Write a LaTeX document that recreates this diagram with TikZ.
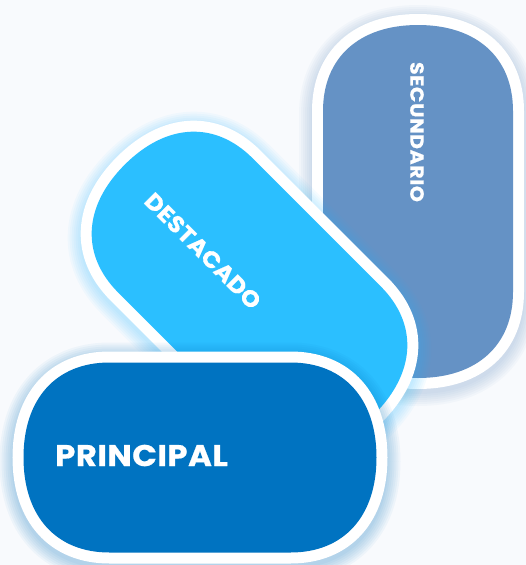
\documentclass[tikz,border=0pt]{standalone}
\usepackage{fontspec}
\newfontfamily\popfont{Poppins}
\definecolor{bgc}{HTML}{F8FAFD}
\definecolor{princ}{HTML}{0073C1}
\definecolor{dest}{HTML}{2BBFFF}
\definecolor{secu}{HTML}{6592C5}
\def\pL{176.5}
\def\pS{95}
\def\rA{86}
\def\rB{95}
\def\kk{0.62}
\tikzset{
  pillpath/.style={insert path={
    ({-\pL+\rA},{-\pS}) -- ({\pL-\rA},{-\pS})
    .. controls ({\pL-\rA+\kk*\rA},{-\pS}) and ({\pL},{-\pS+\rB-\kk*\rB}) .. ({\pL},{-\pS+\rB})
    -- ({\pL},{\pS-\rB})
    .. controls ({\pL},{\pS-\rB+\kk*\rB}) and ({\pL-\rA+\kk*\rA},{\pS}) .. ({\pL-\rA},{\pS})
    -- ({-\pL+\rA},{\pS})
    .. controls ({-\pL+\rA-\kk*\rA},{\pS}) and ({-\pL},{\pS-\rB+\kk*\rB}) .. ({-\pL},{\pS-\rB})
    -- ({-\pL},{-\pS+\rB})
    .. controls ({-\pL},{-\pS+\rB-\kk*\rB}) and ({-\pL+\rA-\kk*\rA},{-\pS}) .. ({-\pL+\rA},{-\pS})
    -- cycle}},
  pilltext/.style n args={3}{text=white, inner sep=0pt,
    font=\popfont\bfseries\fontsize{#1}{#1}\selectfont\addfontfeatures{FakeStretch=#2,LetterSpace=#3,FakeBold=0.6}}
}
\newcommand\drawpill[4]{%
  \begin{scope}[shift={(#1,{#2+4})}, rotate=#3]
    \foreach \w in {24,28,32,36,40,44,48} {\draw[#4, opacity=0.045, line width=\w pt] [pillpath];}
  \end{scope}
  \begin{scope}[shift={(#1,#2)}, rotate=#3]
    \draw[white, fill=white, line width=22pt] [pillpath];
    \fill[#4] [pillpath];
  \end{scope}}
\begin{document}
\begin{tikzpicture}[x=1pt, y=-1pt]
  \useasboundingbox (0,0) rectangle (526,565);
  \fill[bgc] (0,0) rectangle (526,565);
  \drawpill{418}{201.5}{90}{secu}
  \drawpill{249.5}{289.5}{-45}{dest}
  \drawpill{200}{457.5}{0}{princ}
  \node[pilltext={19}{1.08}{3}, rotate=-90] (tsec) at (417,132) {SECUNDARIO};
  \node[pilltext={23}{1.06}{1}, rotate=-45] (tdes) at (203,251) {DESTACADO};
  \node[pilltext={30}{1.08}{1.5}, anchor=west] (tprin) at (55,455.5) {PRINCIPAL};
\end{tikzpicture}
\end{document}
